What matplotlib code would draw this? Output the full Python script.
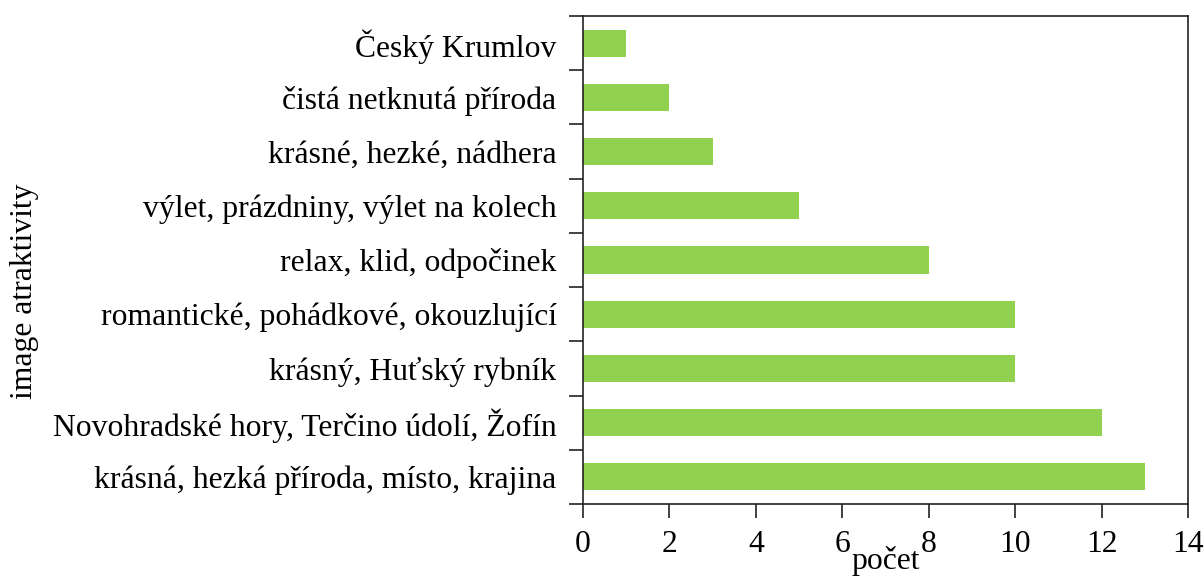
import matplotlib
matplotlib.use("Agg")
import matplotlib.pyplot as plt
import numpy as np

categories = [
    "krásná, hezká příroda, místo, krajina",
    "Novohradské hory, Terčino údolí, Žofín",
    "krásný, Huťský rybník",
    "romantické, pohádkové, okouzlující",
    "relax, klid, odpočinek",
    "výlet, prázdniny, výlet na kolech",
    "krásné, hezké, nádhera",
    "čistá netknutá příroda",
    "Český Krumlov",
]
values = [13, 12, 10, 10, 8, 5, 3, 2, 1]
xticks = [0, 2, 4, 6, 8, 10, 12, 14]

plt.rcParams['font.family'] = ['Liberation Serif', 'DejaVu Serif']
FS = 22.8

fig = plt.figure(figsize=(12.04, 5.81), dpi=100)
ax = fig.add_axes([583/1204, 1-504/581, (1188-583)/1204, (504-16)/581])

y = np.arange(len(categories))
ax.barh(y, values, height=0.5, color="#92D050")
ax.set_xlim(0, 14)
ax.set_ylim(-0.5, len(categories) - 0.5)
ax.set_xticks(xticks)
ax.set_xticklabels([str(t) for t in xticks], fontsize=FS)
ax.set_yticks(y)
ax.set_yticklabels(categories, fontsize=FS)
ax.tick_params(axis='y', which='major', length=0, pad=19)
ax.set_yticks(np.arange(-0.5, len(categories), 1.0), minor=True)
ax.tick_params(axis='y', which='minor', length=10, width=1.2, color='#222222')
ax.tick_params(axis='x', which='major', length=10, width=1.2, color='#222222', pad=9)
for s in ax.spines.values():
    s.set_linewidth(1.2)
    s.set_color('#222222')
ax.set_xlabel("počet", fontsize=FS, labelpad=-10)
fig.text(25/1204, 1-291/581, "image atraktivity", fontsize=FS, rotation=90,
         ha='center', va='center')

fig.savefig("out.png", dpi=100)
